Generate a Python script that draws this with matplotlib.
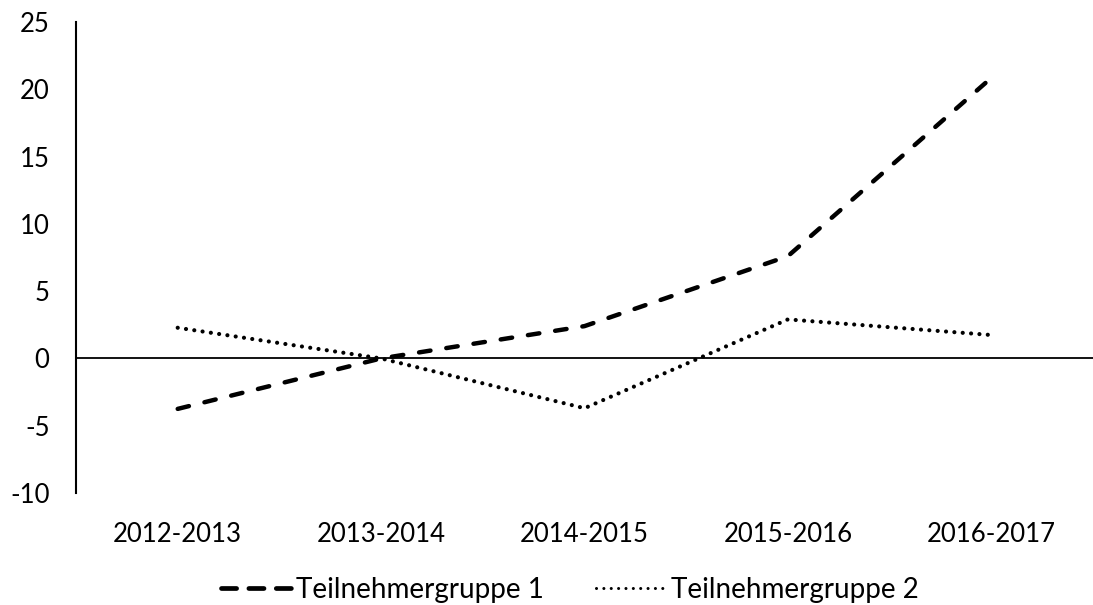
import matplotlib
matplotlib.use("Agg")
import matplotlib.pyplot as plt
from matplotlib.lines import Line2D

categories = ["2012-2013", "2013-2014", "2014-2015", "2015-2016", "2016-2017"]
gruppe1 = [-3.75, 0.0, 2.4, 7.6, 20.85]
gruppe2 = [2.28, 0.0, -3.7, 2.9, 1.74]
series_names = ["Teilnehmergruppe 1", "Teilnehmergruppe 2"]
yticks = [-10, -5, 0, 5, 10, 15, 20, 25]

plt.rcParams['font.family'] = ['Lato', 'DejaVu Sans']

fig = plt.figure(figsize=(10.93, 6.05), dpi=100)
ax = fig.add_axes([76/1093, 1 - 493/605, 1 - 76/1093, (493 - 22)/605])

x = list(range(len(categories)))
ax.plot(x, gruppe1, color='black', lw=3.2, linestyle=(0, (2.6, 3.6)),
        dash_capstyle='round', solid_capstyle='round', label=series_names[0])
ax.plot(x, gruppe2, color='black', lw=3.0, linestyle=(0, (0.01, 2.0)),
        dash_capstyle='round', label=series_names[1])
ax.axhline(0, color='black', lw=1.3, zorder=1)

ax.set_xlim(-0.5, len(categories) - 0.5)
ax.set_ylim(-10, 25)
ax.set_yticks(yticks)
ax.set_yticklabels([str(v) for v in yticks])
ax.set_xticks(x)
ax.set_xticklabels(categories)

for s in ['top', 'right', 'bottom']:
    ax.spines[s].set_visible(False)
ax.spines['left'].set_linewidth(1.5)
ax.tick_params(axis='both', length=0, labelsize=18.5)
ax.tick_params(axis='y', pad=19)
ax.tick_params(axis='x', pad=21)

h1 = Line2D([0], [0], color='black', lw=3.4, linestyle=(0, (3.2, 2.6)), dash_capstyle='round')
h2 = Line2D([0], [0], color='black', lw=2.2, linestyle=(0, (0.01, 2.4)), dash_capstyle='round')
fig.legend([h1, h2], series_names, loc='center', bbox_to_anchor=(570/1093, 1 - 590/605),
           ncol=2, frameon=False, fontsize=20, handlelength=2.6, handletextpad=0.1,
           columnspacing=1.9)

fig.savefig("out.png", dpi=100)
